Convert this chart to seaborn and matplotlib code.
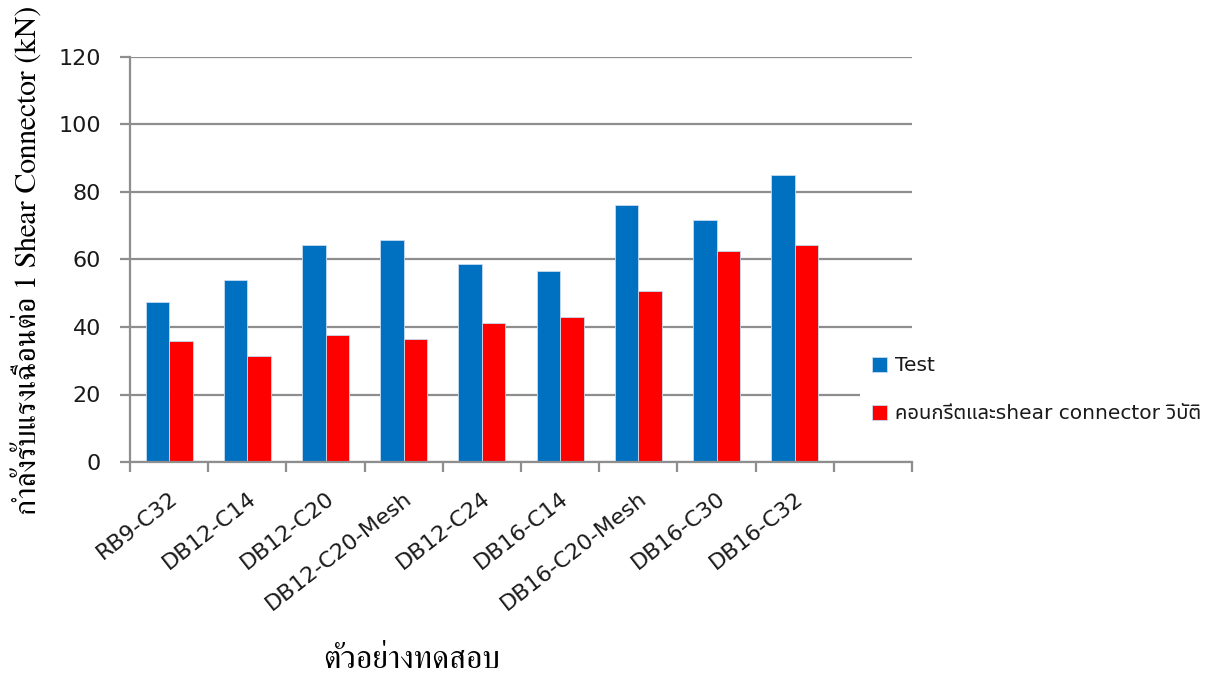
import numpy as np
import pandas as pd
import seaborn as sns
import matplotlib
matplotlib.use('Agg')
import matplotlib.pyplot as plt

# ชื่อตัวอย่าง (ช่องสุดท้ายว่างในกราฟต้นฉบับ)
specimens = ['RB9-C32', 'DB12-C14', 'DB12-C20', 'DB12-C20-Mesh', 'DB12-C24',
             'DB16-C14', 'DB16-C20-Mesh', 'DB16-C30', 'DB16-C32']
test_vals = [47.3, 53.9, 64.2, 65.8, 58.8, 56.6, 76.2, 71.8, 84.9]
calc_vals = [35.9, 31.5, 37.5, 36.4, 41.3, 43.0, 50.6, 62.6, 64.2]
series_names = ['Test', 'คอนกรีตและshear connector วิบัติ']
y_ticks = [0, 20, 40, 60, 80, 100, 120]

data = pd.DataFrame({
    'specimen': specimens * 2,
    'value': test_vals + calc_vals,
    'series': [series_names[0]] * len(specimens) + [series_names[1]] * len(specimens),
})

sns.set_style('white')
plt.rcParams['font.family'] = ['DejaVu Sans', 'Noto Sans Thai UI', 'Loma']

grid_col = '#8e8e8e'
txt_col = '#1a1a1a'
fig = plt.figure(figsize=(12.11, 6.78), dpi=100)
ax = fig.add_axes([130 / 1211, 1 - 462 / 678, 782 / 1211, 405 / 678])

sns.barplot(data=data, x='specimen', y='value', hue='series', order=specimens,
            palette=['#0070C0', '#FF0000'], saturation=1, width=0.6, ax=ax, zorder=3,
            edgecolor='#c6dcf0', linewidth=0.6, legend=True)

ax.set_xlim(-0.5, 9.5)
ax.set_ylim(0, 120)
ax.set_yticks(y_ticks)
ax.grid(axis='y', color=grid_col, linewidth=1.6, zorder=0)
ax.set_axisbelow(True)
for s in ['top', 'right']:
    ax.spines[s].set_visible(False)
for s in ['left', 'bottom']:
    ax.spines[s].set_color(grid_col)
    ax.spines[s].set_linewidth(1.6)
    ax.spines[s].set_zorder(4)

# ขีดแบ่งช่องบนแกน x
ax.set_xticks(np.arange(-0.5, 10, 1), minor=True)
ax.tick_params(axis='x', which='minor', bottom=True, length=7, width=1.6,
               color=grid_col, direction='out')
ax.tick_params(axis='x', which='major', bottom=False, length=0, pad=19,
               labelsize=16, labelcolor=txt_col)
ax.tick_params(axis='y', left=True, length=7, width=1.6, color=grid_col,
               direction='out', pad=14, labelsize=16, labelcolor=txt_col)
for lab in ax.get_xticklabels():
    lab.set_rotation(38)
    lab.set_ha('right')
    lab.set_rotation_mode('anchor')

ax.set_xlabel('')
ax.set_ylabel('')
fig.text(28 / 1211, 1 - 260 / 678, 'กำลังรับแรงเฉือนต่อ 1 Shear Connector (kN)',
         rotation=90, ha='center', va='center', fontsize=21.5, family='FreeSerif',
         color='black')
fig.text(412 / 1211, 1 - 660 / 678, 'ตัวอย่างทดสอบ', ha='center', va='center',
         fontsize=23, family='FreeSerif', color='black')

leg = ax.legend(loc='upper left', bbox_to_anchor=(850 / 1211, 1 - 334 / 678),
                bbox_transform=fig.transFigure, frameon=True, facecolor='white',
                edgecolor='none', framealpha=1, fancybox=False, fontsize=14.5,
                handlelength=0.75, handleheight=0.75, handletextpad=0.4,
                labelspacing=1.45, borderpad=0.6)
for t in leg.get_texts():
    t.set_color(txt_col)
leg.set_zorder(10)

fig.savefig('out.png', dpi=100)
